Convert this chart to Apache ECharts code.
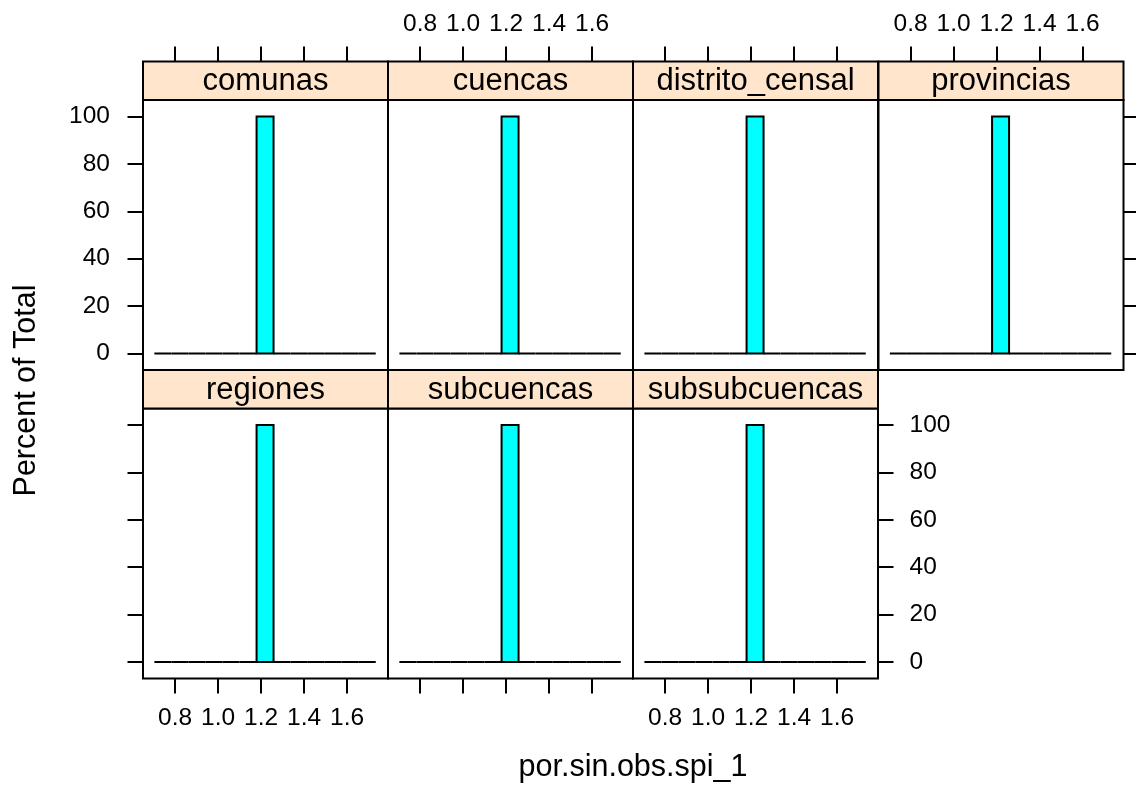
<!DOCTYPE html>
<html>
<head>
<meta charset="utf-8">
<script src="https://cdn.jsdelivr.net/npm/echarts@6/dist/echarts.min.js"></script>
<style>html,body{margin:0;padding:0;background:#fff}#c{width:1136px;height:803px}</style>
</head>
<body>
<div id="c"></div>
<script>
// ---- data ----
const panelNames = ['comunas', 'cuencas', 'distrito_censal', 'provincias', 'regiones', 'subcuencas', 'subsubcuencas'];
const binStart = [0.704, 0.783, 0.862, 0.941, 1.021, 1.100, 1.179, 1.258, 1.337, 1.417, 1.496, 1.575, 1.654];
const binEnd   = [0.783, 0.862, 0.941, 1.021, 1.100, 1.179, 1.258, 1.337, 1.417, 1.496, 1.575, 1.654, 1.733];
const pctComunas        = [0, 0, 0, 0, 0, 0, 100, 0, 0, 0, 0, 0, 0];
const pctCuencas        = [0, 0, 0, 0, 0, 0, 100, 0, 0, 0, 0, 0, 0];
const pctDistritoCensal = [0, 0, 0, 0, 0, 0, 100, 0, 0, 0, 0, 0, 0];
const pctProvincias     = [0, 0, 0, 0, 0, 0, 100, 0, 0, 0, 0, 0, 0];
const pctRegiones       = [0, 0, 0, 0, 0, 0, 100, 0, 0, 0, 0, 0, 0];
const pctSubcuencas     = [0, 0, 0, 0, 0, 0, 100, 0, 0, 0, 0, 0, 0];
const pctSubsubcuencas  = [0, 0, 0, 0, 0, 0, 100, 0, 0, 0, 0, 0, 0];
const xTicks = [0.8, 1.0, 1.2, 1.4, 1.6];
const yTicks = [0, 20, 40, 60, 80, 100];
const xLimits = [0.651, 1.790];
const yLimits = [-7, 107];
const xTitle = 'por.sin.obs.spi_1';
const yTitle = 'Percent of Total';

// ---- layout ----
const FONT = '"Liberation Sans", Arial, Helvetica, sans-serif';
const LW = 2;
const percents = [pctComunas, pctCuencas, pctDistritoCensal, pctProvincias, pctRegiones, pctSubcuencas, pctSubsubcuencas];
const colLeft = [143, 388, 633, 878.5];
const panelW = 245, panelH = 270, stripH = 38.5;
const rowTop = [100, 408.5];
const pos = [[0,0],[0,1],[0,2],[0,3],[1,0],[1,1],[1,2]];
const axCfg = [
  {x:'top', xl:false, y:'left', yl:true},
  {x:'top', xl:true, y:null, yl:false},
  {x:'top', xl:false, y:null, yl:false},
  {x:'top', xl:true, y:'right', yl:false},
  {x:'bottom', xl:true, y:'left', yl:false},
  {x:'bottom', xl:false, y:null, yl:false},
  {x:'bottom', xl:true, y:'right', yl:true}
];

const grids = [], xAxes = [], yAxes = [], series = [], graphics = [];
panelNames.forEach((name, i) => {
  const [r, c] = pos[i];
  const left = colLeft[c], top = rowTop[r];
  grids.push({left: left, top: top, width: panelW, height: panelH, show: true,
    borderColor: '#000', borderWidth: LW, backgroundColor: 'transparent', containLabel: false});
  const ac = axCfg[i];
  xAxes.push({
    type: 'value', gridIndex: i, min: xLimits[0], max: xLimits[1],
    position: ac.x, offset: ac.x === 'top' ? stripH : 0,
    axisLine: {show: false, onZero: false}, splitLine: {show: false},
    axisTick: {show: true, inside: false, length: 15, customValues: xTicks, lineStyle: {color: '#000', width: LW}},
    axisLabel: {show: ac.xl, customValues: xTicks, margin: ac.x === 'top' ? 25 : 27,
      color: '#000', fontSize: 24.5, fontFamily: FONT, formatter: v => v.toFixed(1)}
  });
  yAxes.push({
    type: 'value', gridIndex: i, min: yLimits[0], max: yLimits[1],
    show: ac.y !== null, position: ac.y || 'left',
    axisLine: {show: false, onZero: false}, splitLine: {show: false},
    axisTick: {show: true, inside: false, length: 15.5, customValues: yTicks, lineStyle: {color: '#000', width: LW}},
    axisLabel: {show: ac.yl, customValues: yTicks, margin: ac.y === 'left' ? 33 : 31.5,
      color: '#000', fontSize: 24.5, fontFamily: FONT, formatter: v => String(v)}
  });
  const data = binStart.map((s, k) => [s, binEnd[k], percents[i][k]]);
  series.push({
    type: 'custom', xAxisIndex: i, yAxisIndex: i, data: data,
    encode: {x: [0, 1], y: 2},
    renderItem: function (params, api) {
      const p0 = api.coord([api.value(0), 0]);
      const p1 = api.coord([api.value(1), api.value(2)]);
      return {type: 'rect',
        shape: {x: p0[0], y: p1[1], width: p1[0] - p0[0], height: p0[1] - p1[1]},
        style: {fill: '#00ffff', stroke: '#000', lineWidth: LW}};
    }
  });
  graphics.push({type: 'rect', z: 10,
    shape: {x: left, y: top - stripH, width: panelW, height: stripH},
    style: {fill: '#ffe5cc', stroke: '#000', lineWidth: LW}});
  graphics.push({type: 'text', z: 11, x: left + panelW / 2, y: top - stripH / 2 + 1,
    style: {text: name, font: '31px ' + FONT, fill: '#000', align: 'center', verticalAlign: 'middle'}});
});
graphics.push({type: 'text', x: 633, y: 768,
  style: {text: xTitle, font: '30.5px ' + FONT, fill: '#000', align: 'center', verticalAlign: 'middle'}});
graphics.push({type: 'text', x: 26.5, y: 390.5, rotation: Math.PI / 2,
  style: {text: yTitle, font: '30.5px ' + FONT, fill: '#000', align: 'center', verticalAlign: 'middle'}});

const chart = echarts.init(document.getElementById('c'), null, {renderer: 'canvas'});
chart.setOption({
  backgroundColor: '#fff',
  animation: false,
  grid: grids, xAxis: xAxes, yAxis: yAxes, series: series, graphic: graphics
});
</script>
</body>
</html>
